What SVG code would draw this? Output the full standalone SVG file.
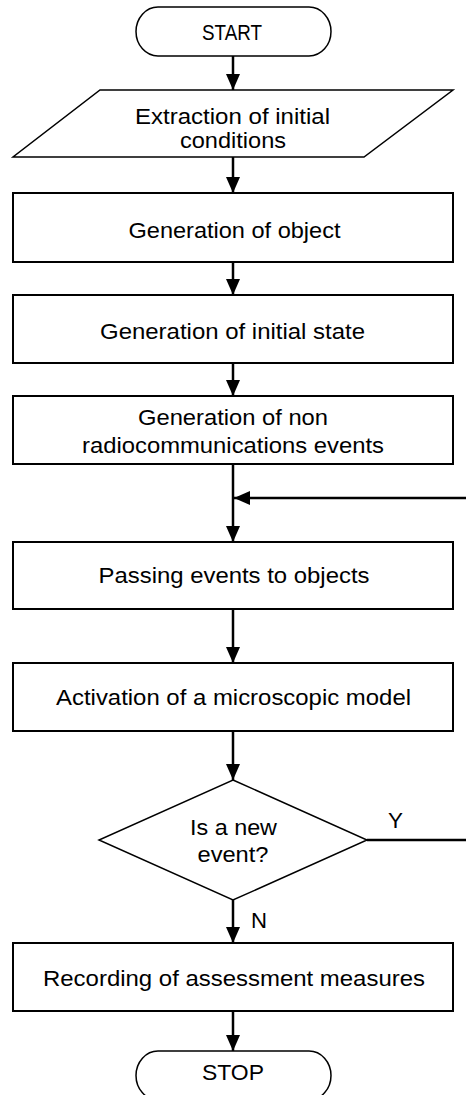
<svg xmlns="http://www.w3.org/2000/svg" width="466" height="1095" viewBox="0 0 466 1095">
  <defs>
    <marker id="arrow" viewBox="0 0 16 14" refX="16" refY="7" markerWidth="16" markerHeight="14" markerUnits="userSpaceOnUse" orient="auto">
      <path d="M0,0 L16,7 L0,14 z" fill="#000"/>
    </marker>
    <style>
      .box { fill: #fff; stroke: #000; stroke-width: 2; }
      .thin { fill: #fff; stroke: #000; stroke-width: 1.5; }
      .lbl { font-family: "Liberation Sans", Arial, sans-serif; font-size: 22px; fill: #000; text-anchor: middle; }
      .side { font-family: "Liberation Sans", Arial, sans-serif; font-size: 22px; fill: #000; }
      .conn { fill: none; stroke: #000; stroke-width: 2.5; }
    </style>
  </defs>
  <rect width="466" height="1095" fill="#fff"/>

  <!-- connectors -->
  <g id="connectors">
    <path class="conn" d="M233,56 V90" marker-end="url(#arrow)"/>
    <path class="conn" d="M233,157 V193" marker-end="url(#arrow)"/>
    <path class="conn" d="M233,262 V295" marker-end="url(#arrow)"/>
    <path class="conn" d="M233,363 V396" marker-end="url(#arrow)"/>
    <path class="conn" d="M233,464 V542" marker-end="url(#arrow)"/>
    <path class="conn" d="M233,609 V663" marker-end="url(#arrow)"/>
    <path class="conn" d="M233,731 V780" marker-end="url(#arrow)"/>
    <path class="conn" d="M233,900 V943" marker-end="url(#arrow)"/>
    <path class="conn" d="M233,1011 V1051" marker-end="url(#arrow)"/>
    <!-- loop back from the decision to the event stream -->
    <path class="conn" d="M367,840 H472 V498 H234" marker-end="url(#arrow)"/>
    <text class="side" x="388" y="828" textLength="15" lengthAdjust="spacingAndGlyphs">Y</text>
    <text class="side" x="251" y="928" textLength="16" lengthAdjust="spacingAndGlyphs">N</text>
  </g>

  <g id="start">
    <rect class="thin" x="136" y="7" width="195" height="49" rx="22" ry="24.5"/>
    <text class="lbl" x="232" y="39.5" textLength="60" lengthAdjust="spacingAndGlyphs">START</text>
  </g>

  <g id="extract">
    <polygon class="thin" points="100,90 453,90 364,157 13,157"/>
    <text class="lbl" x="232.5" y="124" textLength="195" lengthAdjust="spacingAndGlyphs">Extraction of initial</text>
    <text class="lbl" x="233" y="147.5" textLength="106" lengthAdjust="spacingAndGlyphs">conditions</text>
  </g>

  <g id="gen-object">
    <rect class="box" x="13" y="193" width="440" height="69"/>
    <text class="lbl" x="234.5" y="237.5" textLength="212" lengthAdjust="spacingAndGlyphs">Generation of object</text>
  </g>

  <g id="gen-state">
    <rect class="box" x="13" y="295" width="440" height="68"/>
    <text class="lbl" x="232.5" y="338.5" textLength="265" lengthAdjust="spacingAndGlyphs">Generation of initial state</text>
  </g>

  <g id="gen-events">
    <rect class="box" x="13" y="396" width="440" height="68"/>
    <text class="lbl" x="233" y="425" textLength="190" lengthAdjust="spacingAndGlyphs">Generation of non</text>
    <text class="lbl" x="233" y="453" textLength="302" lengthAdjust="spacingAndGlyphs">radiocommunications events</text>
  </g>

  <g id="passing">
    <rect class="box" x="13" y="542" width="440" height="67"/>
    <text class="lbl" x="234" y="582.5" textLength="271" lengthAdjust="spacingAndGlyphs">Passing events to objects</text>
  </g>

  <g id="activation">
    <rect class="box" x="13" y="663" width="440" height="68"/>
    <text class="lbl" x="233.5" y="705" textLength="355" lengthAdjust="spacingAndGlyphs">Activation of a microscopic model</text>
  </g>

  <g id="decision">
    <polygon class="thin" points="233,780 367,840 233,900 99,840"/>
    <text class="lbl" x="233.5" y="835" textLength="87" lengthAdjust="spacingAndGlyphs">Is a new</text>
    <text class="lbl" x="233" y="862" textLength="71" lengthAdjust="spacingAndGlyphs">event?</text>
  </g>

  <g id="recording">
    <rect class="box" x="13" y="943" width="440" height="68"/>
    <text class="lbl" x="234" y="986" textLength="382" lengthAdjust="spacingAndGlyphs">Recording of assessment measures</text>
  </g>

  <g id="stop">
    <rect class="thin" x="136" y="1051" width="195" height="49" rx="22" ry="24.5"/>
    <text class="lbl" x="233" y="1080" textLength="62" lengthAdjust="spacingAndGlyphs">STOP</text>
  </g>
</svg>
